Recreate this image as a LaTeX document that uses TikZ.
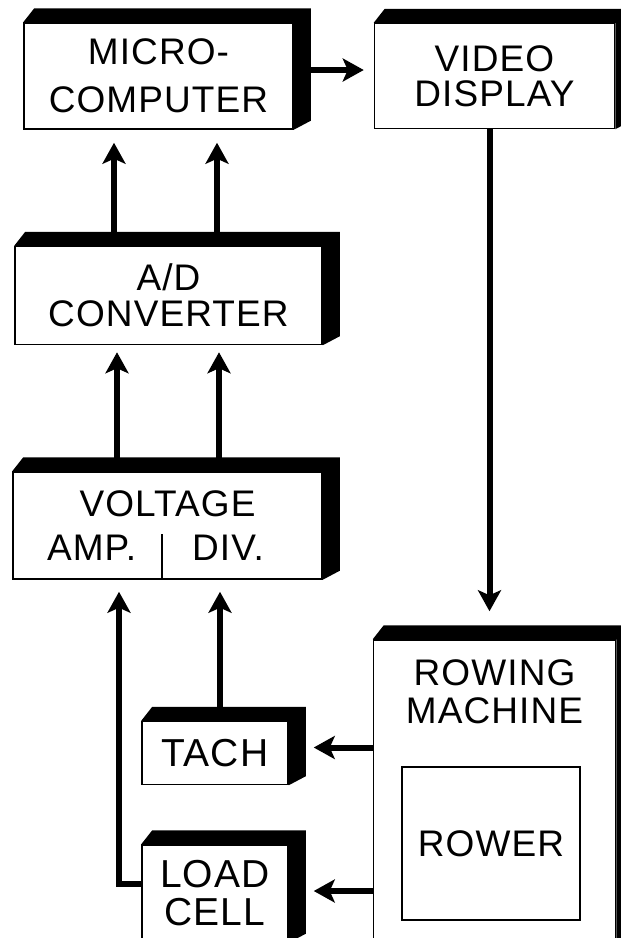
\documentclass[tikz,border=0pt]{standalone}
\usepackage{fontspec}
\newfontfamily\blockfont[LetterSpace=3]{Liberation Sans}
\usetikzlibrary{arrows.meta, positioning, calc}
\tikzstyle{slab} = [rectangle, draw=black, line width=1.5pt, fill=white, align=center, inner sep=0pt, font=\blockfont\fontsize{37}{38}\selectfont]
\tikzstyle{small slab} = [slab, font=\blockfont\fontsize{39}{38}\selectfont]
\tikzstyle{arrow} = [line width=6pt, -{Stealth[length=21pt, width=23pt, inset=5pt]}]

\begin{document}
\begin{tikzpicture}[x=1pt, y=-1pt]
\fill[white] (0,0) rectangle (621,938);
\useasboundingbox (0,0) rectangle (621,938);
\clip (0,0) rectangle (621,938);

\node (micro) [slab, minimum width=269pt, minimum height=106pt] at (158.5,76) {MICRO-\\[10pt]COMPUTER};
\node (video) [slab, minimum width=240pt, minimum height=105pt, right=80pt of micro] {VIDEO\\[-3pt]DISPLAY};
\node (adc) [slab, minimum width=307pt, minimum height=98pt, below=116pt of micro, xshift=10pt] {A/D\\[-2pt]CONVERTER};
\node (volt) [slab, minimum width=309pt, minimum height=107pt, below=126pt of adc, xshift=-1pt] {VOLTAGE\\[6pt]\hspace{-24pt}AMP.\hspace{56pt}DIV.};
\node (tach) [small slab, minimum width=146pt, minimum height=63pt, below=141pt of volt.south, xshift=47.5pt] {TACH};
\node (load) [small slab, minimum width=146pt, minimum height=97pt, below=59pt of tach] {LOAD\\CELL};
\node (rowing) [slab, minimum width=242pt, minimum height=330pt, below=510pt of video] {};
\node (rowtitle) [font=\blockfont\fontsize{37}{38}\selectfont, align=center, inner sep=0pt, below=20pt of rowing.north] {ROWING\\MACHINE};
\node (rower) [slab, line width=2.5pt, minimum width=178pt, minimum height=153pt] at (491,843.5) {ROWER};

% solid top and side faces
\foreach \n in {micro, video, adc, volt, tach, load, rowing}
  \fill ($(\n.north west)+(11,-14)$) -- ($(\n.north east)+(17,-14)$) -- ($(\n.south east)+(17,-9)$) -- (\n.south east) -- (\n.north east) -- (\n.north west) -- cycle;

\draw [line width=2.5pt] ([xshift=-5.5pt]volt.south) -- ++(0,-46);

\draw [arrow] ([xshift=15pt, yshift=6pt]micro.east) -- ([xshift=-10pt, yshift=6pt]video.west);
\foreach \dx in {-54.5pt, 48.5pt}
  \draw [arrow, shorten >=13pt] ([xshift=\dx]adc.north) -- ([xshift=\dx]adc.north |- micro.south);
\foreach \dx in {-50.5pt, 51.5pt}
  \draw [arrow, shorten >=7pt] ([xshift=\dx]volt.north) -- ([xshift=\dx]volt.north |- adc.south);
\draw [arrow, shorten >=12pt] ([xshift=5pt]tach.north) -- ([xshift=5pt]tach.north |- volt.south);
\draw [arrow, shorten >=12pt] ([yshift=10pt]load.west) -| ([xshift=-48.5pt]volt.south);
\draw [arrow, shorten >=28pt] ([xshift=-5pt]video.south) -- ([xshift=-5pt]video.south |- rowing.north);
\draw [arrow, shorten >=25pt] ([yshift=5.5pt]tach.east -| rowing.west) -- ([yshift=5.5pt]tach.east);
\draw [arrow, shorten >=25pt] ([yshift=2.5pt]load.east -| rowing.west) -- ([yshift=2.5pt]load.east);

\end{tikzpicture}
\end{document}
